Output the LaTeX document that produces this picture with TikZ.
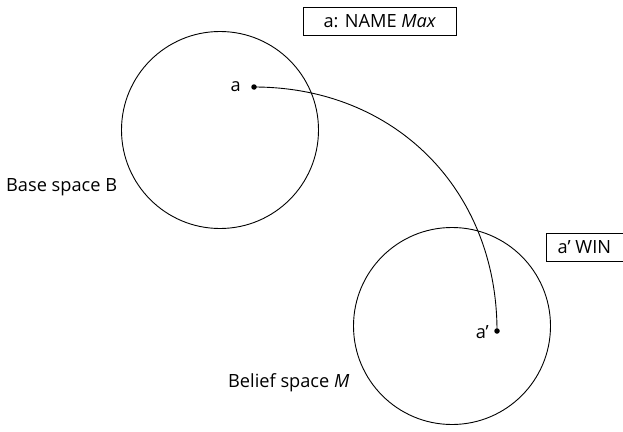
\documentclass[tikz,border=0pt]{standalone}
\usepackage{fontspec}
\setmainfont{Open Sans}
\begin{document}
\begin{tikzpicture}[x=1pt,y=-1pt,
  txt/.style={font=\fontsize{18.2}{20}\selectfont, inner sep=0pt},
  lbl/.style={draw, line width=0.7pt, font=\fontsize{18.2}{20}\selectfont, inner sep=2pt, minimum height=28pt},
  dotn/.style={circle, fill, inner sep=0pt, minimum size=5.5pt},
  space/.style={circle, draw, line width=0.9pt, minimum size=197pt, inner sep=0pt}]
\useasboundingbox (0,0) rectangle (623,431);
\node[space] (B) at (220,130) {};
\node[space] (M) at (452,326) {};
\node[dotn] (a) at (254,87) {};
\node[dotn] (ap) at (497,331) {};
\node[txt, anchor=east] (alab) at (241,87) {a};
\node[txt, anchor=east] (aplab) at (489,332) {a’};
\node[txt, anchor=west] (Blab) at (6,187) {Base space B};
\node[txt, anchor=west] (Mlab) at (228,383) {Belief space \textit{M}};
\node[lbl, anchor=north west, minimum width=153pt] (box1) at (303,7) {a: NAME \textit{Max}};
\node[lbl, anchor=north west, minimum width=77pt] (box2) at (545.5,233) {a’ WIN};
\draw[line width=0.9pt] (a.center) to[out=0,in=90,looseness=1.05] (ap.center);
\end{tikzpicture}
\end{document}
